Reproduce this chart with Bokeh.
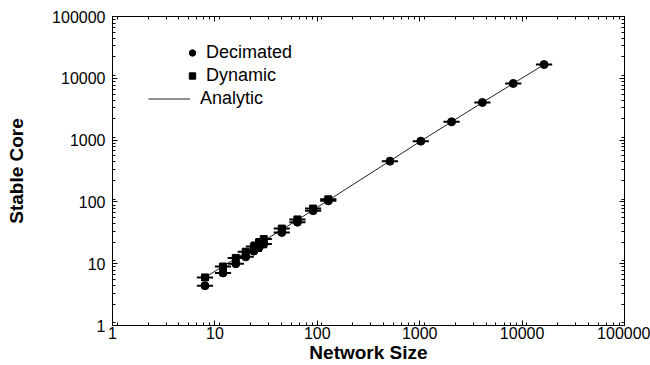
from bokeh.plotting import figure
from bokeh.models import (LogAxis, LogTicker, Legend, LegendItem, CustomJSTickFormatter,
                          Range1d, ColumnDataSource)
from bokeh.embed import file_html
from bokeh.resources import INLINE

# ---- data ----
dec_x = [8, 12, 16, 20, 24, 27, 30, 45, 64, 91, 128, 512, 1024, 2048, 4096, 8192, 16384]
dec_y = [4.4, 7.1, 10.0, 12.9, 16.0, 18.4, 20.9, 32, 47, 72, 104, 456, 962, 1977, 4065, 8250, 16700]
dyn_x = [8, 12, 16, 20, 24, 27, 30, 45, 64, 91, 128]
dyn_y = [6.0, 9.0, 12.4, 15.6, 18.9, 22, 25, 37, 52, 78, 110]
ana_x = [7.5, 8, 16, 32, 64, 128, 512, 1024, 2048, 4096, 8192, 16384]
ana_y = [5.6, 6.0, 12.2, 25, 51, 106, 460, 965, 1980, 4060, 8250, 16600]
err_factor = 1.2
tick_values = [1, 10, 100, 1000, 10000, 100000]
tick_labels = ["1", "10", "100", "1000", "10000", "100000"]

FONT = "Liberation Sans"

p = figure(width=650, height=365, x_axis_type="log", y_axis_type="log",
           x_range=Range1d(1, 1e5), y_range=Range1d(1, 1e5),
           output_backend="svg", toolbar_location=None,
           min_border_left=112, min_border_right=26, min_border_top=16, min_border_bottom=40)
p.grid.visible = False
p.outline_line_color = "black"
p.outline_line_width = 1
p.background_fill_color = "white"
p.border_fill_color = "white"

dec = ColumnDataSource(dict(x=dec_x, y=dec_y,
                            x0=[v / err_factor for v in dec_x], x1=[v * err_factor for v in dec_x]))
dyn = ColumnDataSource(dict(x=dyn_x, y=dyn_y,
                            x0=[v / err_factor for v in dyn_x], x1=[v * err_factor for v in dyn_x]))
ana = ColumnDataSource(dict(x=ana_x, y=ana_y))

r_line = p.line("x", "y", source=ana, line_color="#222222", line_width=1)
p.segment(x0="x0", y0="y", x1="x1", y1="y", source=dyn, line_color="black", line_width=2)
p.segment(x0="x0", y0="y", x1="x1", y1="y", source=dec, line_color="black", line_width=2)
r_sq = p.scatter("x", "y", source=dyn, marker="square", size=7, fill_color="black", line_color="black")
r_ci = p.scatter("x", "y", source=dec, marker="circle", size=8, fill_color="black", line_color="black")

ticker_x = LogTicker(num_minor_ticks=9)
ticker_y = LogTicker(num_minor_ticks=9)
overrides = {v: s for v, s in zip(tick_values, tick_labels)}

for ax in p.xaxis + p.yaxis:
    ax.axis_line_color = "black"
    ax.major_tick_in = 5
    ax.major_tick_out = 0
    ax.minor_tick_in = 3
    ax.minor_tick_out = 0
    ax.major_label_text_font = FONT
    ax.major_label_text_font_size = "16px"
    ax.major_label_text_color = "black"
    ax.major_label_overrides = overrides
    ax.axis_label_text_font = FONT
    ax.axis_label_text_font_style = "bold"
    ax.axis_label_text_font_size = "19px"
    ax.axis_label_text_color = "black"

p.xaxis.ticker = ticker_x
p.yaxis.ticker = ticker_y
p.xaxis.axis_label = "Network Size"
p.yaxis.axis_label = "Stable Core"
p.xaxis.major_label_standoff = 1
p.xaxis.axis_label_standoff = 0
p.yaxis.major_label_standoff = 7
p.yaxis.axis_label_standoff = 22

blank = CustomJSTickFormatter(code="return ''")
top = LogAxis(ticker=ticker_x, formatter=blank, major_label_text_font_size="0px",
              major_tick_in=5, major_tick_out=0, minor_tick_in=3, minor_tick_out=0,
              major_label_standoff=0, axis_line_color="black")
right = LogAxis(ticker=ticker_y, formatter=blank, major_label_text_font_size="0px",
                major_tick_in=5, major_tick_out=0, minor_tick_in=3, minor_tick_out=0,
                major_label_standoff=0, axis_line_color="black")
p.add_layout(top, "above")
p.add_layout(right, "right")

legA = Legend(items=[LegendItem(label="Decimated", renderers=[r_ci]),
                     LegendItem(label="Dynamic", renderers=[r_sq])],
              location=(72, 238), glyph_width=16, glyph_height=23, label_height=23,
              label_standoff=6, spacing=0, padding=0, margin=0,
              border_line_color=None, background_fill_alpha=0,
              label_text_font=FONT, label_text_font_size="18px", label_text_color="black")
legB = Legend(items=[LegendItem(label="Analytic", renderers=[r_line])],
              location=(36, 215), glyph_width=42, glyph_height=23, label_height=23,
              label_standoff=10, spacing=0, padding=0, margin=0,
              border_line_color=None, background_fill_alpha=0,
              label_text_font=FONT, label_text_font_size="18px", label_text_color="black")
p.add_layout(legA, "center")
p.add_layout(legB, "center")

open("out.html", "w").write(file_html(p, INLINE))
